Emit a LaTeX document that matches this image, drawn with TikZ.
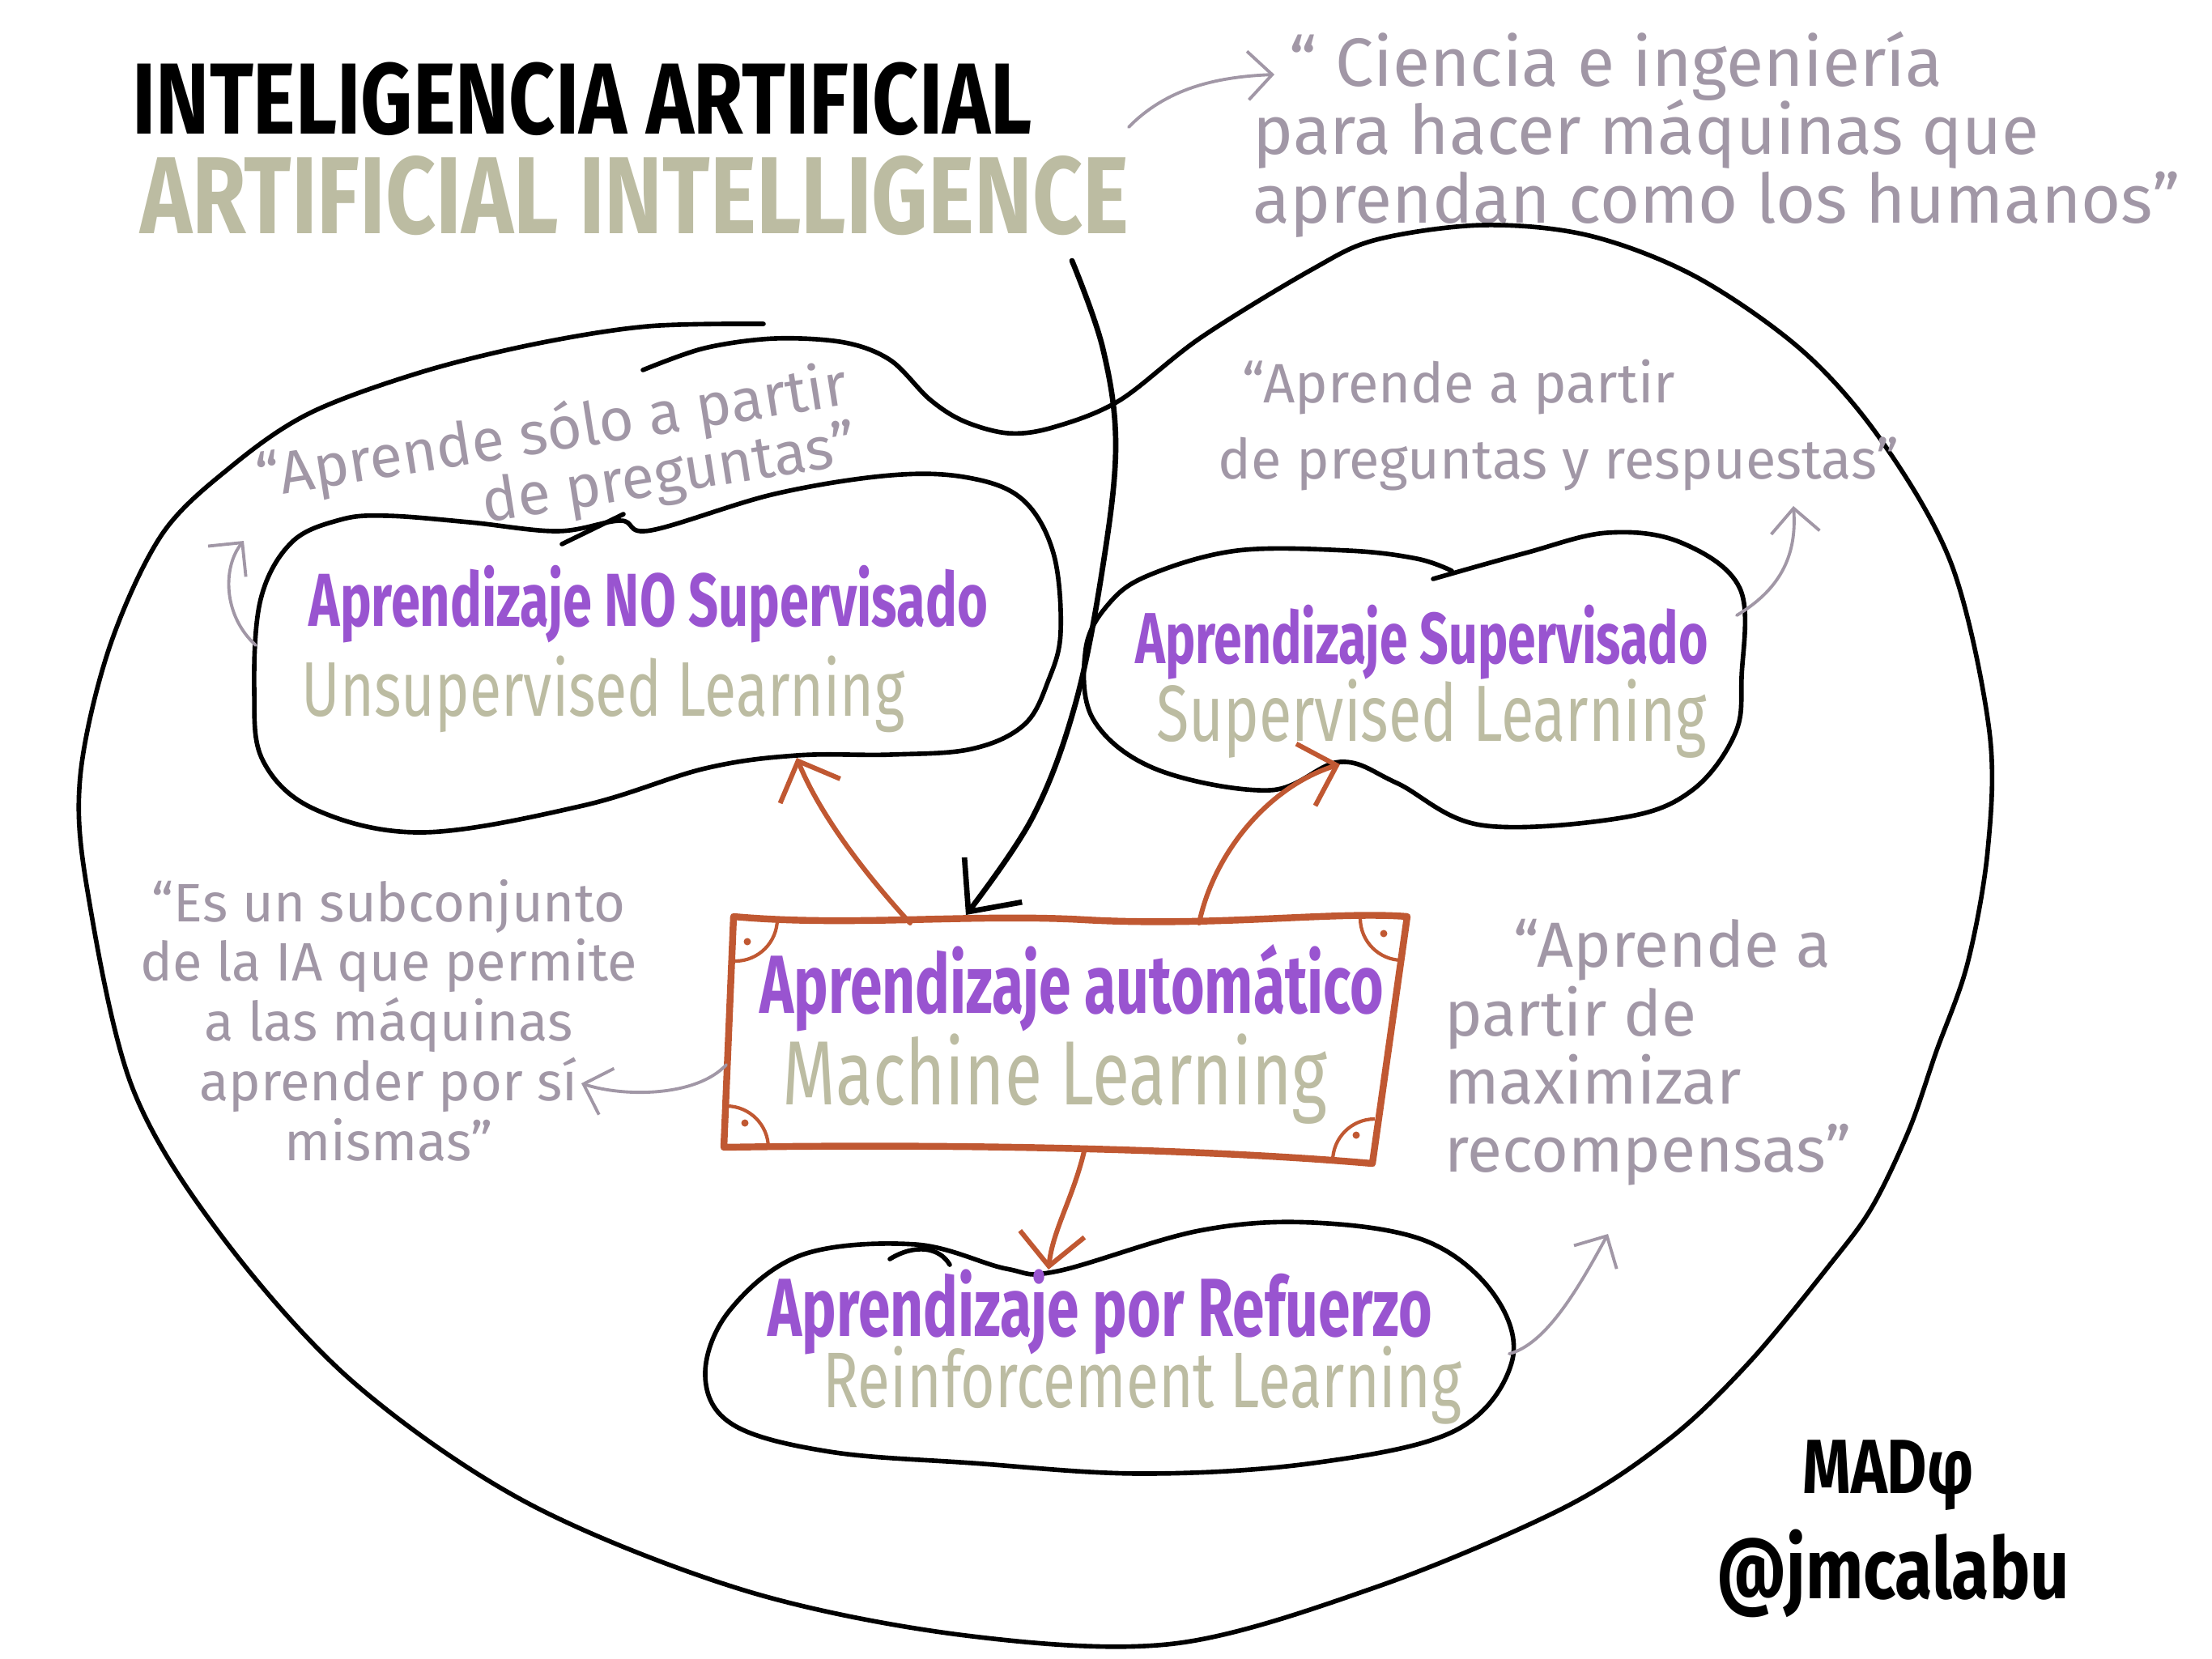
\documentclass[tikz,border=0pt]{standalone}
\usepackage{fontspec}
\usepackage{tikz}
\usetikzlibrary{arrows.meta,positioning,calc}
\newfontfamily\hand{Fira Sans}[FakeStretch=0.8]
\newfontfamily\inkfont{Fira Sans}[FakeStretch=0.7]
\newfontfamily\olivefont{Fira Sans}[FakeStretch=0.75]
\newfontfamily\notefont{Fira Sans}
\definecolor{PurpleInk}{RGB}{153,84,208}
\definecolor{OliveInk}{RGB}{188,188,162}
\definecolor{GreyInk}{RGB}{161,151,166}
\definecolor{RustInk}{RGB}{192,88,50}
\tikzset{outline/.style={line width=1.6pt,line join=round,line cap=round},
	rustbox/.style={RustInk,line width=2.4pt,line join=round,line cap=round},
	rustarrow/.style={RustInk,line width=1.7pt,line cap=round,-{Straight Barb[length=4mm,width=8mm,line width=1.7pt]}},
	blackarrow/.style={line width=1.9pt,line cap=round,-{Straight Barb[length=5mm,width=9mm,line width=1.9pt]}},
	greyarrow/.style={GreyInk,line width=1.1pt,line cap=round,-{Straight Barb[length=3mm,width=6mm,line width=1.1pt]}},
	purpletxt/.style={PurpleInk,inner sep=0pt},
	olivetxt/.style={OliveInk,inner sep=0pt},
	quotetxt/.style={GreyInk,inner sep=0pt}}
\newcommand{\notesize}[2]{\notefont\fontsize{#1}{#2}\selectfont\lineskiplimit=-100pt}

\begin{document}
\begin{tikzpicture}
	\useasboundingbox (0,0) rectangle (27.32,-20.48);
	\node[font=\hand\bfseries\fontsize{35.5}{35.5}\selectfont,inner sep=0pt] (titleEs) at (7.19,-1.22) {INTELIGENCIA ARTIFICIAL};
	\node[OliveInk,font=\hand\bfseries\fontsize{38.5}{38.5}\selectfont,inner sep=0pt] (titleEn) at (7.84,-2.42) {ARTIFICIAL INTELLIGENCE};
	\node[quotetxt,font=\notesize{24}{24},align=left] (qAI) at (21.2,-1.66) {\hspace*{0.45cm}“ Ciencia e ingeniería\\para hacer máquinas que\\aprendan como los humanos”};
	% big outline
	\draw[outline] plot[smooth,tension=0.55] coordinates {(9.43,-4.00) (8.00,-4.03) (6.60,-4.25) (5.19,-4.60) (3.83,-5.10) (2.87,-5.75) (2.00,-6.60) (1.35,-8.00) (0.99,-9.60) (1.08,-11.00) (1.63,-13.42) (2.71,-15.23) (4.34,-17.05) (6.51,-18.56) (9.22,-19.65) (11.93,-20.20) (14.50,-20.30) (17.00,-19.60) (19.30,-18.63) (20.62,-17.77) (21.61,-16.82) (22.60,-15.62) (23.12,-14.91) (23.58,-13.95) (23.91,-13.00) (24.30,-11.90) (24.55,-10.50) (24.57,-9.03) (24.11,-6.99) (23.25,-5.46) (22.27,-4.34) (20.95,-3.42) (19.63,-2.91) (18.32,-2.78) (17.00,-2.96) (16.20,-3.33) (14.83,-4.17) (13.82,-4.95) (13.00,-5.28) (12.45,-5.35) (11.90,-5.20) (11.48,-4.93) (11.00,-4.45) (10.43,-4.23) (9.57,-4.18) (8.70,-4.30) (7.94,-4.57)};
	% unsupervised
	\draw[outline] plot[smooth cycle,tension=0.6] coordinates {(3.14,-8.54) (3.22,-7.40) (3.60,-6.70) (4.20,-6.42) (4.78,-6.37) (5.80,-6.45) (6.89,-6.56) (7.66,-6.43) (8.04,-6.55) (9.57,-6.10) (11.00,-5.87) (11.96,-5.90) (12.63,-6.17) (13.01,-6.83) (13.10,-7.80) (12.95,-8.40) (12.65,-8.95) (12.00,-9.25) (11.00,-9.32) (9.84,-9.33) (8.71,-9.49) (7.20,-9.95) (5.23,-10.28) (3.90,-10.00) (3.25,-9.40)};
	\draw[outline] (7.70,-6.35) -- (6.94,-6.72);
	% supervised
	\draw[outline] plot[smooth,tension=0.6] coordinates {(17.70,-7.15) (18.84,-6.83) (19.85,-6.58) (20.76,-6.70) (21.49,-7.27) (21.51,-8.36) (21.43,-9.06) (20.90,-9.76) (20.03,-10.10) (18.29,-10.19) (17.25,-9.67) (16.55,-9.41) (15.68,-9.76) (14.28,-9.50) (13.50,-8.88) (13.41,-8.01) (13.70,-7.45) (14.20,-7.10) (15.28,-6.80) (16.65,-6.80) (17.50,-6.90) (17.93,-7.05)};
	% reinforcement
	\draw[outline] plot[smooth cycle,tension=0.6] coordinates {(8.71,-17.00) (9.06,-17.60) (10.25,-17.93) (12.01,-18.07) (14.11,-18.20) (16.22,-18.07) (17.97,-17.67) (18.67,-16.83) (18.46,-16.00) (17.62,-15.33) (16.22,-15.10) (14.81,-15.20) (13.06,-15.70) (12.43,-15.67) (11.31,-15.37) (9.90,-15.50) (9.00,-16.20)};
	\draw[outline] (10.99,-15.55) .. controls (11.3,-15.36) and (11.6,-15.40) .. (11.73,-15.62);
	% machine learning box
	\draw[rustbox] (9.06,-11.32) .. controls (10.5,-11.45) and (12.0,-11.28) .. (13.4,-11.36) .. controls (15.0,-11.45) and (16.5,-11.25) .. (17.38,-11.32) -- (16.95,-14.37) .. controls (15.0,-14.20) and (12.0,-14.12) .. (8.94,-14.17) -- cycle;
	\draw[RustInk,line width=1.2pt] (9.08,-11.87) arc[start angle=-90,end angle=0,radius=0.52];
	\draw[RustInk,line width=1.2pt] (16.80,-11.34) arc[start angle=180,end angle=270,radius=0.52];
	\draw[RustInk,line width=1.2pt] (9.49,-14.18) arc[start angle=0,end angle=90,radius=0.52];
	\draw[RustInk,line width=1.2pt] (16.98,-13.82) arc[start angle=90,end angle=180,radius=0.52];
	\fill[RustInk] (9.23,-11.63) circle (0.045) (17.09,-11.53) circle (0.045) (9.20,-13.87) circle (0.045) (16.75,-14.02) circle (0.045);
	% texts
	\node[quotetxt,font=\notesize{21}{21},align=right,rotate=9] (qUns) at (6.88,-5.72) {“Aprende sólo a partir\\de preguntas”};
	\node[purpletxt,font=\inkfont\bfseries\fontsize{26.4}{26.4}\selectfont] (unsEs) at (8.01,-7.46) {Aprendizaje NO Supervisado};
	\node[olivetxt,font=\olivefont\fontsize{27.2}{27.2}\selectfont] (unsEn) at (7.45,-8.57) {Unsupervised Learning};
	\node[quotetxt,font=\notesize{19.5}{27},align=left] (qSup) at (19.25,-5.25) {\hspace*{0.3cm}“Aprende a partir\\de preguntas y respuestas”};
	\node[purpletxt,font=\inkfont\bfseries\fontsize{25.4}{25.4}\selectfont] (supEs) at (17.56,-7.93) {Aprendizaje Supervisado};
	\node[olivetxt,font=\olivefont\fontsize{28}{28}\selectfont] (supEn) at (17.68,-8.88) {Supervised Learning};
	\node[purpletxt,font=\inkfont\bfseries\fontsize{29}{29}\selectfont] (mlEs) at (13.24,-12.20) {Aprendizaje automático};
	\node[olivetxt,font=\olivefont\fontsize{32}{32}\selectfont] (mlEn) at (13.03,-13.33) {Machine Learning};
	\node[quotetxt,font=\notesize{19}{21},align=center] (qMl) at (4.80,-12.60) {“Es un subconjunto\\de la IA que permite\\a las máquinas\\aprender por sí\\mismas”};
	\node[quotetxt,font=\notesize{22.4}{24},align=left] (qRl) at (20.35,-13.00) {\hspace*{0.85cm}“Aprende a\\partir de\\maximizar\\recompensas”};
	\node[purpletxt,font=\inkfont\bfseries\fontsize{29}{29}\selectfont] (rlEs) at (13.59,-16.20) {Aprendizaje por Refuerzo};
	\node[olivetxt,font=\olivefont\fontsize{27.7}{27.7}\selectfont] (rlEn) at (14.11,-17.11) {Reinforcement Learning};
	\node[font=\hand\bfseries\fontsize{27}{27}\selectfont,inner sep=0pt] (sigA) at (23.32,-18.22) {MADφ};
	\node[font=\hand\bfseries\fontsize{30}{30}\selectfont,inner sep=0pt] (sigB) at (23.38,-19.43) {@jmcalabu};
	% connectors
	\coordinate (aiStart) at (13.24,-3.22);
	\coordinate (mlTop) at (11.93,-11.30);
	\coordinate (mlNW) at (11.24,-11.40);
	\coordinate (mlNE) at (14.81,-11.40);
	\coordinate (mlS) at (13.39,-14.22);
	\coordinate (unsIn) at (9.84,-9.36);
	\coordinate (supIn) at (16.55,-9.44);
	\coordinate (rlIn) at (12.95,-15.68);
	\draw[blackarrow] plot[smooth,tension=0.6] coordinates {(aiStart) (13.62,-4.3) (13.78,-5.5) (13.62,-7.0) (13.28,-8.7) (12.75,-10.1) (mlTop)};
	\draw[rustarrow] (mlNW) .. controls (10.6,-10.7) and (10.1,-10.0) .. (unsIn);
	\draw[rustarrow] (mlNE) .. controls (15.0,-10.5) and (15.7,-9.7) .. (supIn);
	\draw[rustarrow] (mlS) .. controls (13.25,-14.8) and (13.0,-15.2) .. (rlIn);
	\coordinate (aiQ) at (13.94,-1.57);
	\coordinate (aiQto) at (15.74,-0.92);
	\coordinate (unsQ) at (3.16,-7.97);
	\coordinate (unsQto) at (3.01,-6.68);
	\coordinate (supQ) at (21.45,-7.60);
	\coordinate (supQto) at (22.15,-6.25);
	\coordinate (mlQ) at (8.97,-13.15);
	\coordinate (mlQto) at (7.18,-13.38);
	\coordinate (rlQ) at (18.64,-16.72);
	\coordinate (rlQto) at (19.86,-15.24);
	\draw[greyarrow] (aiQ) .. controls (14.4,-1.1) and (15.0,-0.95) .. (aiQto);
	\draw[greyarrow] (unsQ) .. controls (2.75,-7.6) and (2.75,-7.0) .. (unsQto);
	\draw[greyarrow] (supQ) .. controls (21.95,-7.3) and (22.2,-6.9) .. (supQto);
	\draw[greyarrow] (mlQ) .. controls (8.6,-13.55) and (7.7,-13.55) .. (mlQto);
	\draw[greyarrow] (rlQ) .. controls (19.1,-16.6) and (19.5,-15.9) .. (rlQto);
\end{tikzpicture}
\end{document}
